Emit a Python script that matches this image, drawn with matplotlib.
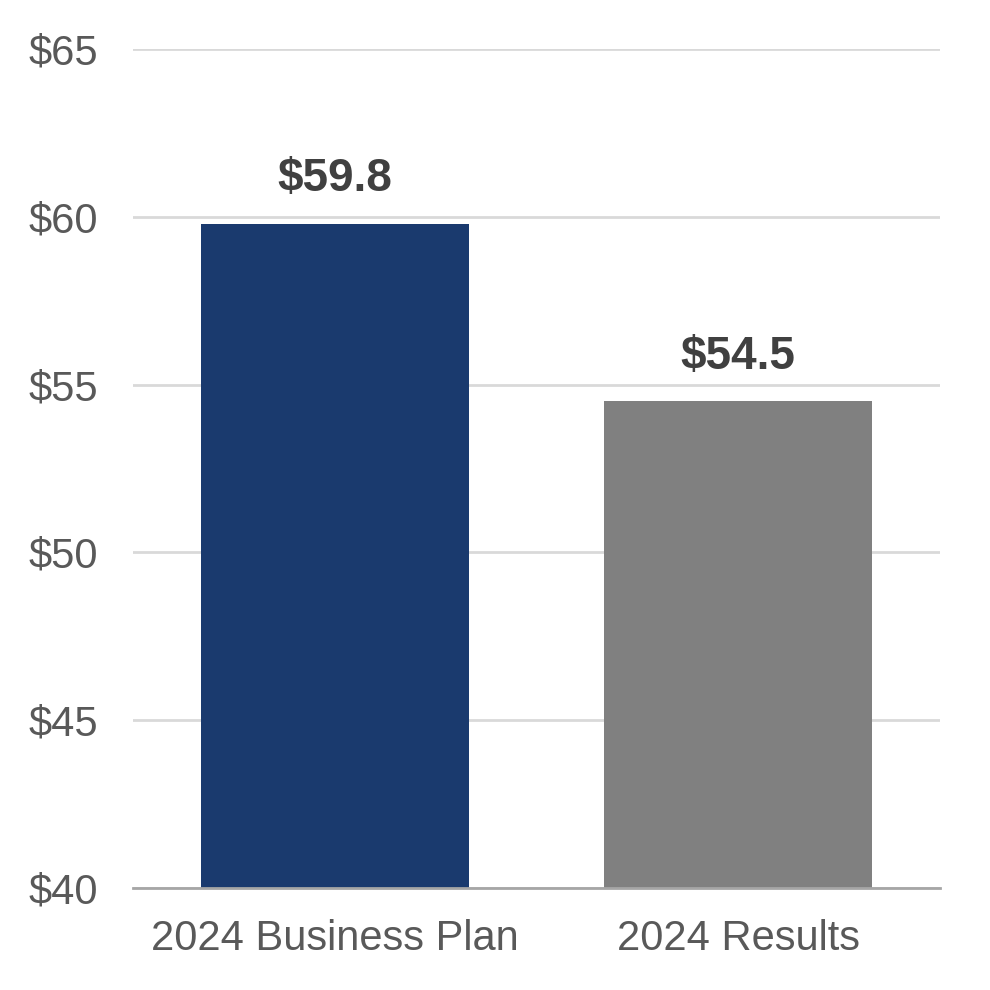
import numpy as np
import matplotlib.pyplot as plt
import matplotlib

matplotlib.rcParams['font.family'] = ['Liberation Sans', 'DejaVu Sans']

categories = ["2024 Business Plan", "2024 Results"]
values = [59.8, 54.5]
bar_colors = ["#1A3A6E", "#808080"]
yticks = [40, 45, 50, 55, 60, 65]

fig = plt.figure(figsize=(9.9, 9.9), dpi=100)
ax = fig.add_axes([0.1343, 0.103, 0.8152, 0.8475])

x = np.arange(len(categories))
ax.bar(x, values, width=0.664, color=bar_colors, zorder=3)

for xi, v in zip(x, values):
    ax.annotate("${:.1f}".format(v), (xi, v), xytext=(0, 16), textcoords="offset points",
                ha="center", va="bottom", fontsize=33, fontweight="bold", color="#404040")

ax.set_xlim(-0.5, 1.5)
ax.set_ylim(40, 65)
ax.set_yticks(yticks)
ax.set_yticklabels(["${}".format(t) for t in yticks])
ax.set_xticks(x)
ax.set_xticklabels(categories)

ax.grid(axis="y", color="#D9D9D9", linewidth=2, zorder=0)
for s in ["top", "right", "left"]:
    ax.spines[s].set_visible(False)
ax.spines["bottom"].set_color("#A6A6A6")
ax.spines["bottom"].set_linewidth(2)
ax.spines["bottom"].set_zorder(4)

ax.tick_params(axis="y", length=0, pad=25, labelsize=30, labelcolor="#595959")
ax.tick_params(axis="x", length=0, pad=22, labelsize=30, labelcolor="#595959")

plt.savefig("out.png", dpi=100)
